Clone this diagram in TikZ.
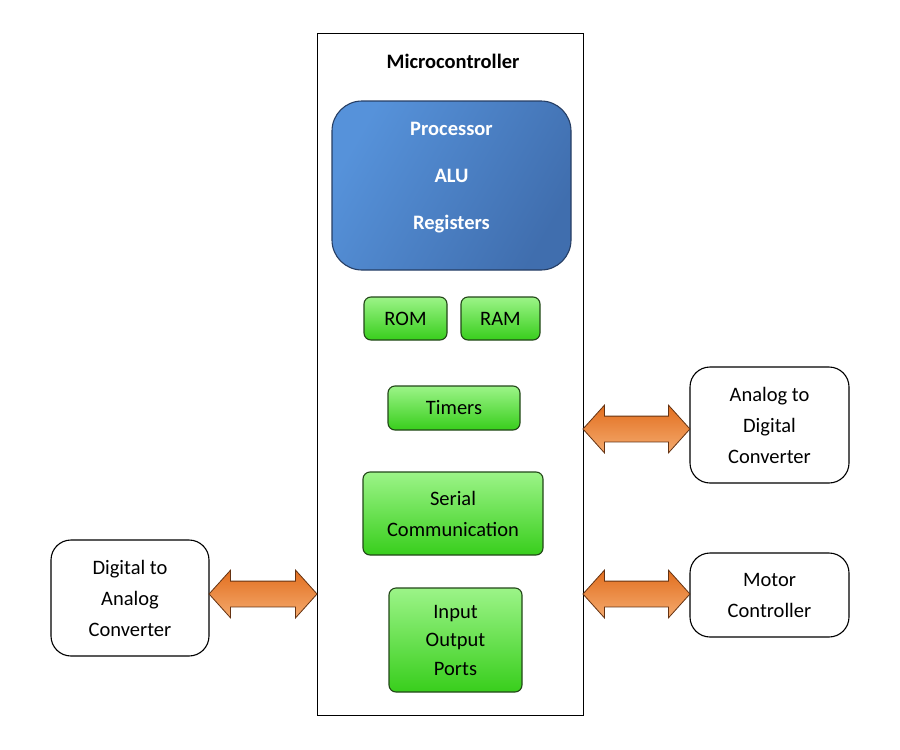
\documentclass[tikz,border=0pt]{standalone}
\usepackage{fontspec}
\setmainfont{Carlito}
\usetikzlibrary{arrows.meta, positioning, shapes.arrows, calc}

\definecolor{procA}{RGB}{86,146,218}
\definecolor{procB}{RGB}{64,110,174}
\definecolor{procLine}{RGB}{38,62,100}
\definecolor{memA}{RGB}{156,244,136}
\definecolor{memB}{RGB}{56,206,28}
\definecolor{memLine}{RGB}{34,70,24}
\definecolor{arrA}{RGB}{226,110,30}
\definecolor{arrB}{RGB}{244,170,110}
\definecolor{arrLine}{RGB}{100,50,18}

\begin{document}
\begin{tikzpicture}[
        x=1pt, y=-1pt,
        every node/.style={font=\fontsize{20.5}{31}\selectfont, align=center},
        mcubox/.style={draw, line width=0.9pt, inner sep=0pt},
        procbox/.style={draw=procLine, line width=1.1pt, rounded corners=30pt,
            left color=procA, right color=procB, shading angle=60, inner sep=0pt},
        proctext/.style={text=white, font=\fontsize{20.5}{47}\selectfont\bfseries},
        membox/.style={draw=memLine, line width=1.1pt, rounded corners=7pt,
            top color=memA, bottom color=memB, inner sep=0pt},
        extbox/.style={draw, line width=1.1pt, rounded corners=20pt, inner sep=0pt,
            minimum width=159pt},
        dblarrow/.style={shape=double arrow, draw=arrLine, line width=0.8pt,
            top color=arrA, bottom color=arrB, inner xsep=0pt, inner ysep=12.5pt,
            double arrow head extend=11pt, double arrow tip angle=96}
    ]
    \useasboundingbox (0,0) rectangle (900,750);

    % Microcontroller frame
    \node[mcubox, minimum width=266pt, minimum height=682pt] (mcu) at (450,374) {};
    \node[font=\fontsize{20.5}{31}\selectfont\bfseries] (title) at (453,61) {Microcontroller};

    % Processor block
    \node[procbox, minimum width=239pt, minimum height=169pt] (proc) at (451.5,185.5) {};
    \node[proctext] (proclbl) at (451.5,178) {Processor\\ALU\\Registers};

    % Memories and peripherals
    \node[membox, minimum width=83pt, minimum height=43pt] (rom) at (405.5,318.5) {ROM};
    \node[membox, minimum width=79pt, minimum height=43pt] (ram) at (500.5,318.5) {RAM};
    \node[membox, minimum width=132pt, minimum height=44pt] (tmr) at (454,408) {Timers};
    \node[membox, minimum width=180pt, minimum height=83pt] (ser) at (453,513.5) {Serial\\Communication};
    \node[membox, minimum width=133pt, minimum height=104pt,
        font=\fontsize{20.5}{28.5}\selectfont] (io) at (455.5,640) {Input\\Output\\Ports};

    % External devices
    \node[extbox, minimum height=116pt] (adc) at (769.5,425) {Analog to\\Digital\\Converter};
    \node[extbox, minimum height=84pt] (mot) at (769.5,595) {Motor\\Controller};
    \node[extbox, minimum width=158pt, minimum height=116pt] (dac) at (130,598) {Digital to\\Analog\\Converter};

    % Draw links
    \node[dblarrow, minimum height=107pt] (l1) at ($($(mcu.east |- adc.west)!0.5!(adc.west)$)+(0,4)$) {};
    \node[dblarrow, minimum height=107pt] (l2) at ($($(mcu.east |- mot.west)!0.5!(mot.west)$)+(0,-1)$) {};
    \node[dblarrow, minimum height=108pt] (l3) at ($($(dac.east)!0.5!(mcu.west |- dac.east)$)+(0,-4)$) {};

\end{tikzpicture}
\end{document}
